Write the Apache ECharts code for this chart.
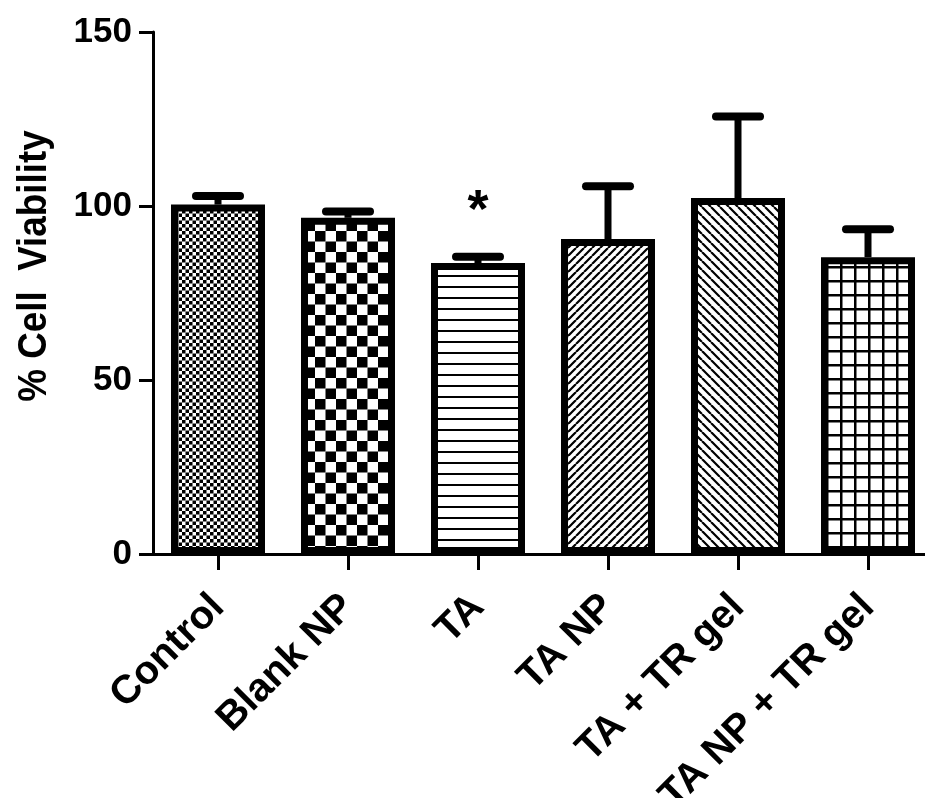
<!DOCTYPE html>
<html>
<head>
<meta charset="utf-8">
<script src="https://cdn.jsdelivr.net/npm/echarts@6/dist/echarts.min.js"></script>
<style>
html,body{margin:0;padding:0;background:#fff;}
#chart{width:925px;height:798px;}
</style>
</head>
<body>
<div id="chart"></div>
<script>
const categories = ['Control', 'Blank NP', 'TA', 'TA NP', 'TA + TR gel', 'TA NP + TR gel'];
const meanValues = [100.4, 96.6, 83.6, 90.5, 102.3, 85.3];
const upperErrorValues = [102.9, 98.4, 85.4, 105.7, 125.7, 93.3];
const annotations = ['', '', '*', '', '', ''];
const yTicks = [0, 50, 100, 150];

const FONT = '"Liberation Sans", Arial, Helvetica, sans-serif';

function pattern(w, h, draw) {
  const c = document.createElement('canvas');
  c.width = w; c.height = h;
  const ctx = c.getContext('2d');
  ctx.fillStyle = '#fff';
  ctx.fillRect(0, 0, w, h);
  ctx.fillStyle = '#000';
  ctx.strokeStyle = '#000';
  draw(ctx, w, h);
  return { image: c, repeat: 'repeat' };
}
function diag(ctx, w, h, lw, forward) {
  ctx.lineWidth = lw;
  ctx.beginPath();
  for (let k = -1; k <= 1; k++) {
    if (forward) { ctx.moveTo(k * w, h); ctx.lineTo(k * w + w, 0); }
    else { ctx.moveTo(k * w, 0); ctx.lineTo(k * w + w, h); }
  }
  ctx.stroke();
}
const patterns = [
  pattern(7, 7, (ctx) => { ctx.fillRect(0, 0, 3.5, 3.5); ctx.fillRect(3.5, 3.5, 3.5, 3.5); }),
  pattern(21, 21, (ctx) => { ctx.fillRect(0, 0, 10.5, 10.5); ctx.fillRect(10.5, 10.5, 10.5, 10.5); }),
  pattern(10, 11, (ctx) => { ctx.fillRect(0, 0, 10, 2); }),
  pattern(8, 8, (ctx, w, h) => diag(ctx, w, h, 2.2, true)),
  pattern(9, 9, (ctx, w, h) => diag(ctx, w, h, 2.2, false)),
  pattern(14, 14, (ctx) => { ctx.fillRect(0, 0, 14, 2.5); ctx.fillRect(0, 0, 2.5, 14); })
];

const chart = echarts.init(document.getElementById('chart'), null, { renderer: 'canvas' });

const barData = meanValues.map((v, i) => ({
  value: v,
  itemStyle: { color: patterns[i], borderColor: '#000', borderWidth: 7 }
}));
const errData = meanValues.map((v, i) => [i, v, upperErrorValues[i], annotations[i]]);

const option = {
  animation: false,
  backgroundColor: '#fff',
  grid: { left: 153, width: 780, top: 32, bottom: 244, containLabel: false, outerBoundsMode: 'none' },
  xAxis: {
    type: 'category',
    data: categories,
    boundaryGap: true,
    axisLine: { show: true, lineStyle: { color: '#000', width: 3 } },
    axisTick: { show: true, alignWithLabel: true, length: 16, lineStyle: { color: '#000', width: 3 } },
    axisLabel: {
      interval: 0, rotate: 45, margin: 47,
      fontFamily: FONT, fontWeight: 'bold', fontSize: 40, color: '#000'
    },
    splitLine: { show: false }
  },
  yAxis: {
    type: 'value',
    min: 0, max: 150, interval: 50,
    axisLine: { show: true, lineStyle: { color: '#000', width: 3 } },
    axisTick: { show: true, length: 14, lineStyle: { color: '#000', width: 3 } },
    axisLabel: {
      margin: 21, fontFamily: FONT, fontWeight: 'bold', fontSize: 35, color: '#000',
      formatter: (v) => (yTicks.indexOf(v) >= 0 ? String(v) : '')
    },
    splitLine: { show: false }
  },
  graphic: [{
    type: 'text',
    x: 35, y: 266,
    rotation: Math.PI / 2,
    scaleX: 0.92,
    style: {
      text: '% Cell  Viability',
      font: 'bold 40px ' + FONT,
      fill: '#000',
      align: 'center',
      verticalAlign: 'middle'
    }
  }],
  series: [
    {
      type: 'bar',
      data: barData,
      barWidth: 94,
      z: 2
    },
    {
      type: 'custom',
      z: 3,
      data: errData,
      encode: { x: 0, y: [1, 2] },
      renderItem: function (params, api) {
        const i = api.value(0);
        const base = api.coord([i, api.value(1)]);
        const top = api.coord([i, api.value(2)]);
        const children = [
          { type: 'line', shape: { x1: base[0], y1: base[1], x2: top[0], y2: top[1] },
            style: { stroke: '#000', lineWidth: 7 } },
          { type: 'line', shape: { x1: top[0] - 22, y1: top[1], x2: top[0] + 22, y2: top[1] },
            style: { stroke: '#000', lineWidth: 8, lineCap: 'round' } }
        ];
        const ann = errData[params.dataIndex][3];
        if (ann) {
          children.push({
            type: 'text',
            style: {
              text: ann, x: top[0], y: top[1] - 45,
              font: 'bold 54px ' + FONT, fill: '#000',
              align: 'center', verticalAlign: 'middle'
            }
          });
        }
        return { type: 'group', children: children };
      }
    }
  ]
};
chart.setOption(option);
</script>
</body>
</html>
